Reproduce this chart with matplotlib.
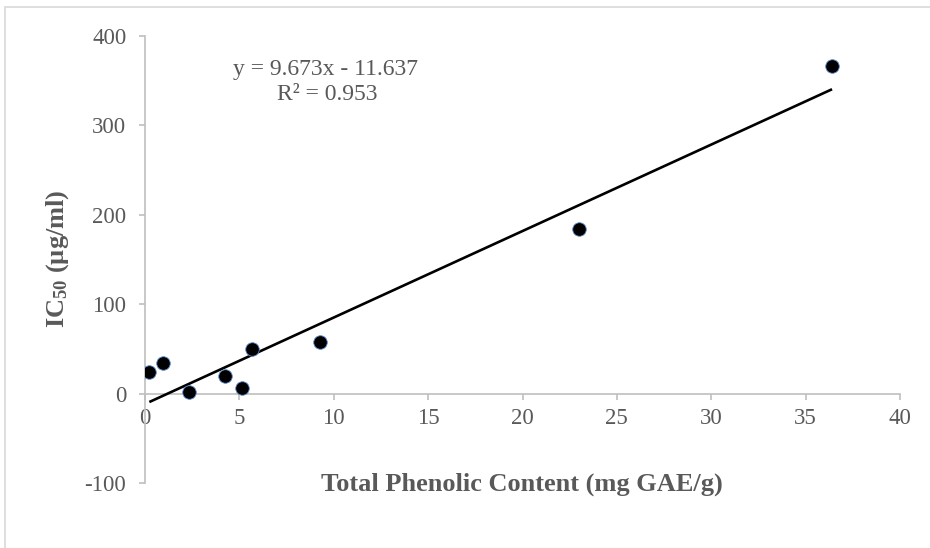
import matplotlib
matplotlib.use("Agg")
import matplotlib.pyplot as plt
from matplotlib.patches import Rectangle

# Data
tpc = [0.23, 0.95, 2.31, 4.25, 5.14, 5.69, 9.25, 23.0, 36.4]
ic50 = [23.8, 34.3, 1.5, 20.1, 5.9, 49.9, 58.1, 184.0, 366.5]
slope = 9.673
intercept = -11.637
r2 = 0.953
x_ticks = [0, 5, 10, 15, 20, 25, 30, 35, 40]
y_ticks = [-100, 0, 100, 200, 300, 400]

plt.rcParams['font.family'] = ['Liberation Serif', 'DejaVu Serif']
plt.rcParams['mathtext.fontset'] = 'custom'
plt.rcParams['mathtext.rm'] = 'Liberation Serif'
plt.rcParams['mathtext.bf'] = 'Liberation Serif:bold'
plt.rcParams['mathtext.it'] = 'Liberation Serif:italic'
grey = '#595959'
axgrey = '#BFBFBF'

fig = plt.figure(figsize=(9.3, 5.48), dpi=100)
ax = fig.add_axes([145/930, 1-483/548, 755/930, 447/548])

ax.set_xlim(0, 40)
ax.set_ylim(-100, 400)

# trendline
xs = [min(tpc), max(tpc)]
ys = [slope*v + intercept for v in xs]
ax.plot(xs, ys, color='black', lw=1.9, zorder=3, solid_capstyle='butt')

ax.scatter(tpc, ic50, s=95, c='black', edgecolors='#5B8BD0', linewidths=0.6, zorder=4)

for s in ['top', 'right']:
    ax.spines[s].set_visible(False)
ax.spines['bottom'].set_position(('data', 0))
ax.spines['left'].set_color(axgrey)
ax.spines['bottom'].set_color(axgrey)
ax.spines['left'].set_linewidth(1.2)
ax.spines['bottom'].set_linewidth(1.2)

ax.set_xticks(x_ticks)
ax.set_yticks(y_ticks)
ax.set_xticklabels([str(v) for v in x_ticks])
ax.set_yticklabels([str(v) for v in y_ticks])
ax.tick_params(axis='both', colors=axgrey, labelcolor=grey, labelsize=16.5, length=4.5, width=1.2, direction='out')
ax.tick_params(axis='x', pad=6)
ax.tick_params(axis='y', pad=9)

fig.text(325/930, 1-69/548, f"y = {slope}x - {abs(intercept)}", fontsize=17, color=grey, ha='center', va='center')
fig.text(327/930, 1-94/548, f"R² = {r2}", fontsize=17, color=grey, ha='center', va='center')

fig.text(522/930, 1-484/548, "Total Phenolic Content (mg GAE/g)", fontsize=19, fontweight='bold', color=grey, ha='center', va='center')
fig.text(58/930, 1-259/548, r"IC$_{\mathbf{50}}$ (µg/ml)", fontsize=19, fontweight='bold', color=grey, ha='center', va='center', rotation=90)

# chart-area border
fig.patches.append(Rectangle((5/930, -0.1), 1.2, 1 - 7/548 + 0.1, transform=fig.transFigure, fill=False, edgecolor='#D9D9D9', lw=1.2))

fig.savefig('out.png', dpi=100)
